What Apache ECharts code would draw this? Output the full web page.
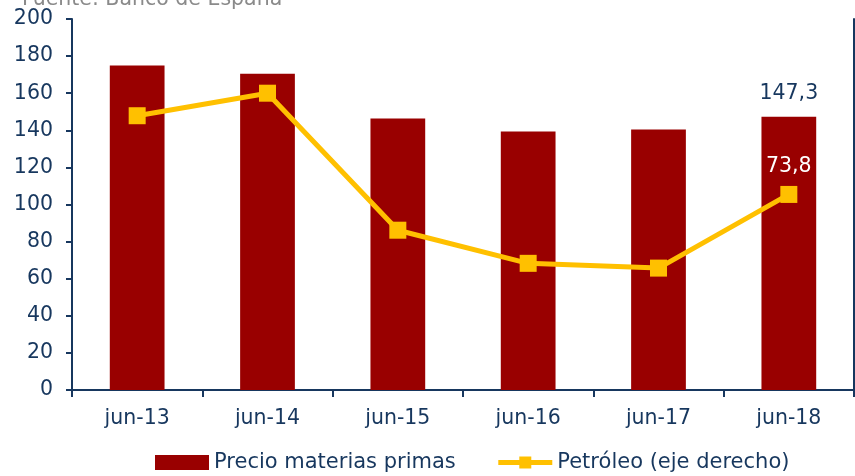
<!DOCTYPE html>
<html><head><meta charset="utf-8">
<script src="https://cdn.jsdelivr.net/npm/echarts@6/dist/echarts.min.js"></script>
<style>html,body{margin:0;padding:0;background:#fff}#c{width:855px;height:476px}</style>
</head><body><div id="c"></div>
<script>
const categories = ['jun-13','jun-14','jun-15','jun-16','jun-17','jun-18'];
const precioMaterias = [175.0, 170.5, 146.3, 139.4, 140.4, 147.3];
const petroleo = [103.5, 112.0, 60.3, 47.8, 46.0, 73.8];
const leftTicks = {min: 0, max: 200, interval: 20};
const rightTicks = {min: 0, max: 140, interval: 14};

const blue = '#17375e';
const font = '"DejaVu Sans", Arial, sans-serif';
const fs = 20.5;
const chart = echarts.init(document.getElementById('c'));
chart.setOption({
  animation: false,
  graphic: [{type: 'text', x: 22, y: 0, style: {text: 'Fuente: Banco de España', fill: '#8a8a8a', font: fs + 'px ' + font, verticalAlign: 'middle'}}],
  grid: {left: 72, right: 1, top: 19, bottom: 86, containLabel: false},
  legend: {
    bottom: -2, left: 150, itemGap: 40, itemWidth: 54, itemHeight: 15,
    textStyle: {color: blue, fontSize: 21, fontFamily: font},
    data: [{name: 'Precio materias primas', icon: 'rect'},
           {name: 'Petróleo (eje derecho)', lineStyle: {width: 5}}]
  },
  xAxis: {
    type: 'category', data: categories,
    axisLine: {lineStyle: {color: blue, width: 2}},
    axisTick: {show: true, length: 7, lineStyle: {color: blue, width: 2}},
    axisLabel: {color: blue, fontSize: fs, fontFamily: font, margin: 18}
  },
  yAxis: [{
    type: 'value', min: leftTicks.min, max: leftTicks.max, interval: leftTicks.interval,
    axisLine: {show: true, lineStyle: {color: blue, width: 2}},
    axisTick: {show: true, length: 6, lineStyle: {color: blue, width: 2}},
    axisLabel: {color: blue, fontSize: fs, fontFamily: font, margin: 19},
    splitLine: {show: false}
  }, {
    type: 'value', min: rightTicks.min, max: rightTicks.max, interval: rightTicks.interval,
    axisLine: {show: true, lineStyle: {color: blue, width: 2}},
    axisTick: {show: false}, axisLabel: {show: false}, splitLine: {show: false}
  }],
  series: [{
    name: 'Precio materias primas', type: 'bar', data: precioMaterias, barWidth: '42%',
    itemStyle: {color: '#990000'},
    label: {show: true, position: 'top', distance: 13, color: blue, fontSize: fs, fontFamily: font,
      formatter: p => p.dataIndex === precioMaterias.length - 1 ? String(p.value).replace('.', ',') : ''}
  }, {
    name: 'Petróleo (eje derecho)', type: 'line', yAxisIndex: 1, data: petroleo,
    lineStyle: {color: '#ffc000', width: 5}, itemStyle: {color: '#ffc000'},
    symbol: 'rect', symbolSize: 17, z: 5,
    label: {show: true, position: 'top', distance: 9, color: '#ffffff', fontSize: fs, fontFamily: font,
      formatter: p => p.dataIndex === petroleo.length - 1 ? String(p.value).replace('.', ',') : ''}
  }]
});
</script></body></html>
